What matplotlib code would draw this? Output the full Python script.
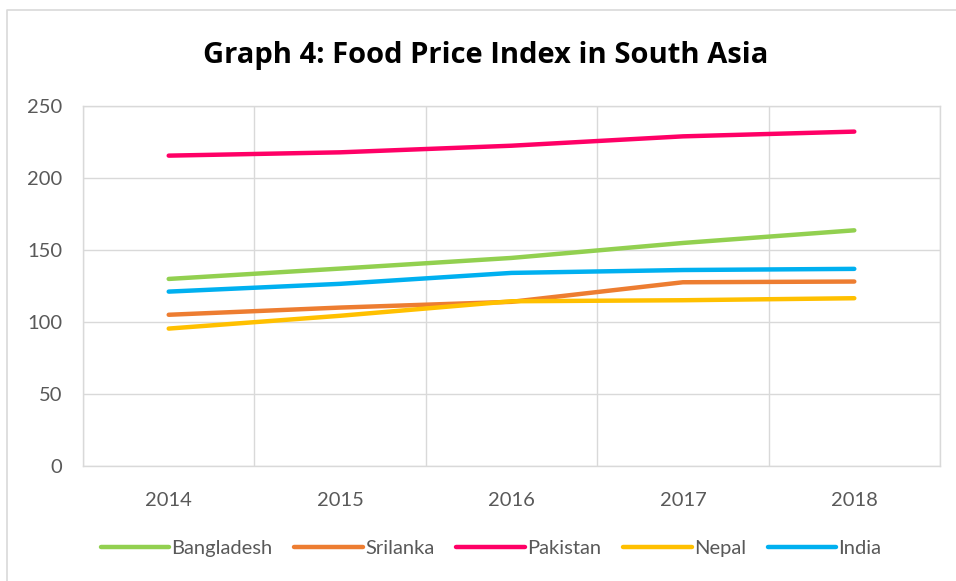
import matplotlib.pyplot as plt
from matplotlib.lines import Line2D

years = ["2014", "2015", "2016", "2017", "2018"]
bangladesh = [129.8, 137.0, 144.4, 154.8, 163.6]
srilanka = [104.9, 109.9, 113.9, 127.5, 128.0]
pakistan = [215.5, 217.8, 222.4, 228.9, 232.2]
nepal = [95.3, 104.2, 114.3, 115.0, 116.4]
india = [121.0, 126.4, 134.0, 136.0, 136.8]

names = ["Bangladesh", "Srilanka", "Pakistan", "Nepal", "India"]
series = [bangladesh, srilanka, pakistan, nepal, india]
colors = ["#92D050", "#ED7D31", "#FF0066", "#FFC000", "#00B0F0"]

plt.rcParams["font.family"] = ["Lato", "DejaVu Sans"]

fig = plt.figure(figsize=(9.56, 5.81), dpi=100)
ax = fig.add_axes([83 / 956, 1 - 465.7 / 581, (940 - 83) / 956, (465.7 - 106) / 581])

x = list(range(len(years)))
for name, vals, c in zip(names, series, colors):
    ax.plot(x, vals, color=c, lw=3.2, solid_capstyle="round", label=name)

ax.set_xlim(-0.5, len(years) - 0.5)
ax.set_ylim(0, 250)
ax.set_yticks(range(0, 251, 50))
ax.set_xticks(x)
ax.set_xticklabels(years)

# vertical grid between categories, like excel
ax.set_xticks([i + 0.5 for i in range(-1, len(years))], minor=True)
ax.grid(True, which="minor", axis="x", color="#D9D9D9", lw=1)
ax.grid(True, which="major", axis="y", color="#D9D9D9", lw=1)
ax.set_axisbelow(True)
ax.tick_params(which="both", length=0)
ax.tick_params(axis="y", pad=15, labelsize=14.5, labelcolor="#595959")
ax.tick_params(axis="x", pad=19, labelsize=14.5, labelcolor="#595959")
for s in ax.spines.values():
    s.set_color("#D9D9D9")
    s.set_linewidth(1)

fig.text(486 / 956, 1 - 55 / 581, "Graph 4: Food Price Index in South Asia",
         ha="center", va="center", fontsize=21, fontweight="bold", color="black",
         family=["Open Sans", "DejaVu Sans"])

handles = [Line2D([], [], color=c, lw=3.2, solid_capstyle="round") for c in colors]
fig.legend(handles, names, loc="center", bbox_to_anchor=(491 / 956, 1 - 548 / 581),
           ncol=5, frameon=False, fontsize=14.5, labelcolor="#595959",
           handlelength=3.4, handletextpad=0.1, columnspacing=1.1)

# outer chart border (only top and left visible in the crop)
fig.add_artist(Line2D([7 / 956, 7 / 956, 1], [0, 1 - 10 / 581, 1 - 10 / 581],
                      transform=fig.transFigure, color="#D9D9D9", lw=1.2))

fig.savefig("out.png", dpi=100)
